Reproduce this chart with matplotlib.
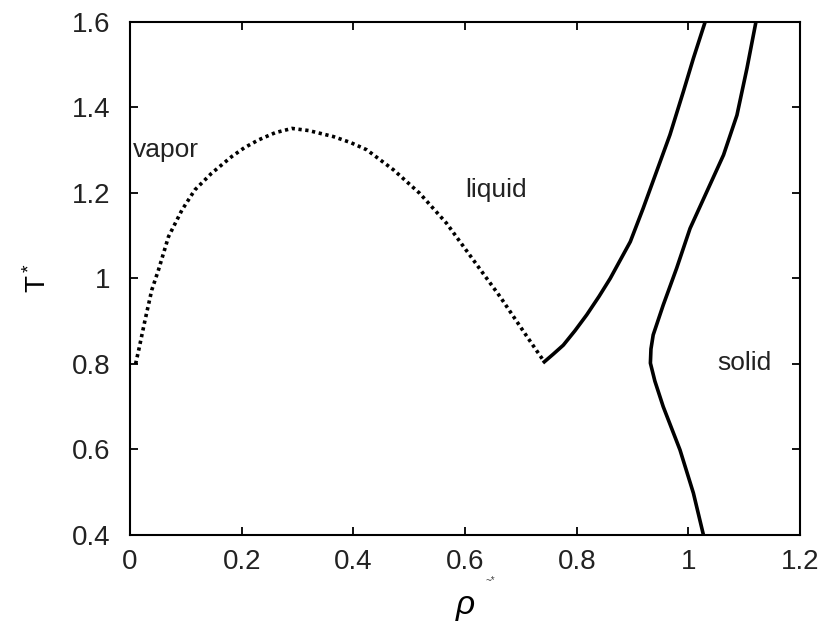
import matplotlib
matplotlib.use("Agg")
import matplotlib.pyplot as plt

plt.rcParams['font.family'] = ['Liberation Sans', 'DejaVu Sans']
plt.rcParams['mathtext.fontset'] = 'custom'
plt.rcParams['mathtext.rm'] = 'Liberation Sans'
plt.rcParams['mathtext.it'] = 'Liberation Sans:italic'

# vapor-liquid coexistence (dotted)
vl_rho = [0.010, 0.016, 0.021, 0.027, 0.039, 0.051, 0.069, 0.093, 0.116, 0.146,
          0.182, 0.205, 0.230, 0.260, 0.290, 0.320, 0.364, 0.395, 0.424, 0.472,
          0.519, 0.567, 0.615, 0.663, 0.711, 0.742]
vl_T = [0.800, 0.835, 0.866, 0.903, 0.973, 1.020, 1.098, 1.160, 1.207, 1.246,
        1.285, 1.306, 1.324, 1.341, 1.351, 1.346, 1.332, 1.318, 1.301, 1.254,
        1.199, 1.129, 1.043, 0.957, 0.864, 0.805]

# liquid branch of freezing line (solid)
fl_rho = [0.742, 0.758, 0.776, 0.797, 0.818, 0.840, 0.860, 0.878, 0.896, 0.919,
          0.943, 0.967, 0.991, 1.009, 1.030]
fl_T = [0.805, 0.823, 0.844, 0.878, 0.915, 0.958, 1.000, 1.043, 1.086, 1.164,
        1.250, 1.336, 1.437, 1.515, 1.600]

# solid branch of melting line (solid)
ml_rho = [1.027, 1.009, 0.985, 0.955, 0.940, 0.932, 0.933, 0.937, 0.955, 0.979,
          1.003, 1.033, 1.063, 1.087, 1.105, 1.121]
ml_T = [0.400, 0.498, 0.599, 0.700, 0.760, 0.802, 0.835, 0.868, 0.938, 1.024,
        1.117, 1.203, 1.289, 1.382, 1.492, 1.600]

x_ticks = [0, 0.2, 0.4, 0.6, 0.8, 1.0, 1.2]
x_labels = ['0', '0.2', '0.4', '0.6', '0.8', '1', '1.2']
y_ticks = [0.4, 0.6, 0.8, 1.0, 1.2, 1.4, 1.6]
y_labels = ['0.4', '0.6', '0.8', '1', '1.2', '1.4', '1.6']

fig = plt.figure(figsize=(8.27, 6.26), dpi=100)
ax = fig.add_axes([0.1572, 0.1454, 0.8102, 0.8195])

ax.plot(vl_rho, vl_T, color='black', lw=2.6, linestyle=(0, (0.9, 1.0)))
ax.plot(fl_rho, fl_T, color='black', lw=2.6, solid_joinstyle='round')
ax.plot(ml_rho, ml_T, color='black', lw=2.6, solid_joinstyle='round')

ax.set_xlim(0, 1.2)
ax.set_ylim(0.4, 1.6)
ax.set_xticks(x_ticks)
ax.set_xticklabels(x_labels)
ax.set_yticks(y_ticks)
ax.set_yticklabels(y_labels)
ax.tick_params(direction='in', length=6, width=1.3, top=True, right=True,
               labelsize=20, colors='black', labelcolor='#222222')
ax.tick_params(axis='x', pad=10)
ax.tick_params(axis='y', pad=14)
for s in ax.spines.values():
    s.set_linewidth(1.5)

ax.text(0.005, 1.30, 'vapor', fontsize=19, va='center', ha='left', color='#222222')
ax.text(0.600, 1.207, 'liquid', fontsize=19, va='center', ha='left', color='#222222')
ax.text(1.051, 0.802, 'solid', fontsize=19, va='center', ha='left', color='#222222')

ax.set_ylabel(r'$\mathregular{T^*}$', fontsize=20, labelpad=14)
ax.set_xlabel(r'$\rho$', fontsize=24, labelpad=12)
fig.text(490/827, 1 - 580/626, '~*', fontsize=7, color='#444444', ha='center', va='center')

fig.savefig('out.png', dpi=100)
